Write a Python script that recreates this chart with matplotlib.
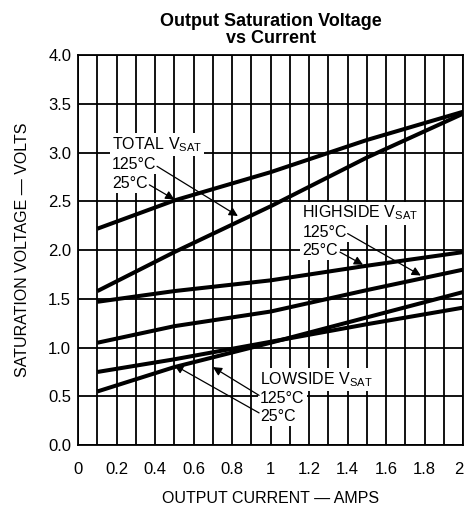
import numpy as np
import matplotlib.pyplot as plt

# データ
current = [0.1, 0.5, 1.0, 1.5, 2.0]
total_25 = [2.22, 2.51, 2.80, 3.13, 3.42]
total_125 = [1.58, 1.98, 2.45, 2.95, 3.40]
high_25 = [1.47, 1.58, 1.69, 1.84, 1.98]
high_125 = [1.05, 1.22, 1.37, 1.59, 1.80]
low_25 = [0.55, 0.80, 1.05, 1.31, 1.57]
low_125 = [0.75, 0.88, 1.06, 1.24, 1.41]

x_ticks = [0, 0.2, 0.4, 0.6, 0.8, 1, 1.2, 1.4, 1.6, 1.8, 2]
x_ticklabels = ['0', '0.2', '0.4', '0.6', '0.8', '1', '1.2', '1.4', '1.6', '1.8', '2']
y_ticks = [0.0, 0.5, 1.0, 1.5, 2.0, 2.5, 3.0, 3.5, 4.0]

plt.rcParams['font.family'] = ['Liberation Sans', 'DejaVu Sans']

fig = plt.figure(figsize=(4.65, 5.11), dpi=100)
ax = fig.add_axes([0.168, 0.129, 0.828, 0.763])

for v in [total_25, total_125, high_25, high_125, low_25, low_125]:
    ax.plot(current, v, color='black', lw=2.9, zorder=4, solid_capstyle='butt')

ax.set_xlim(0, 2)
ax.set_ylim(0, 4)
ax.set_xticks(x_ticks)
ax.set_xticklabels(x_ticklabels)
ax.set_xticks(np.arange(0.1, 2.0, 0.2), minor=True)
ax.set_yticks(y_ticks)
ax.set_yticklabels(['%.1f' % y for y in y_ticks])
ax.tick_params(which='both', length=0, labelsize=12)
ax.tick_params(axis='x', pad=12)
ax.tick_params(axis='y', pad=5)
# 右端の "2" がはみ出るので右寄せ
ax.get_xticklabels()[-1].set_horizontalalignment('right')
ax.grid(which='both', color='black', lw=1.3)
for s in ax.spines.values():
    s.set_linewidth(1.3)

ax.set_xlabel('OUTPUT CURRENT — AMPS', fontsize=11.5, labelpad=10)
ax.set_ylabel('SATURATION VOLTAGE — VOLTS', fontsize=11.5, labelpad=13)
ax.set_title('Output Saturation Voltage\nvs Current', fontsize=13, fontweight='bold',
             family=['Liberation Sans Narrow', 'Liberation Sans'], linespacing=0.95, pad=9)

box = dict(fc='white', ec='none', pad=1.5)
arw = dict(arrowstyle='-|>', color='black', lw=0.9, mutation_scale=13, shrinkA=0, shrinkB=0)
fs = 11.5

# TOTAL
ax.text(0.175, 3.08, r'TOTAL V$_{\mathregular{SAT}}$', fontsize=fs, va='center', bbox=box, zorder=3)
ax.text(0.175, 2.88, '125°C', fontsize=fs, va='center', bbox=box, zorder=3)
ax.text(0.175, 2.68, '25°C', fontsize=fs, va='center', bbox=box, zorder=3)
ax.annotate('', xy=(0.83, 2.35), xytext=(0.41, 2.86), arrowprops=arw, zorder=5)
ax.annotate('', xy=(0.50, 2.52), xytext=(0.37, 2.67), arrowprops=arw, zorder=5)

# HIGHSIDE
ax.text(1.165, 2.38, r'HIGHSIDE V$_{\mathregular{SAT}}$', fontsize=fs, va='center', bbox=box, zorder=3)
ax.text(1.165, 2.18, '125°C', fontsize=fs, va='center', bbox=box, zorder=3)
ax.text(1.165, 2.00, '25°C', fontsize=fs, va='center', bbox=box, zorder=3)
ax.annotate('', xy=(1.78, 1.74), xytext=(1.40, 2.17), arrowprops=arw, zorder=5)
ax.annotate('', xy=(1.48, 1.85), xytext=(1.36, 1.98), arrowprops=arw, zorder=5)

# LOWSIDE
ax.text(0.945, 0.67, r'LOWSIDE V$_{\mathregular{SAT}}$', fontsize=fs, va='center', bbox=box, zorder=3)
ax.text(0.945, 0.48, '125°C', fontsize=fs, va='center', bbox=box, zorder=3)
ax.text(0.945, 0.29, '25°C', fontsize=fs, va='center', bbox=box, zorder=3)
ax.annotate('', xy=(0.70, 0.80), xytext=(0.94, 0.51), arrowprops=arw, zorder=5)
ax.annotate('', xy=(0.50, 0.82), xytext=(0.94, 0.33), arrowprops=arw, zorder=5)

fig.savefig('out.png', dpi=100)
